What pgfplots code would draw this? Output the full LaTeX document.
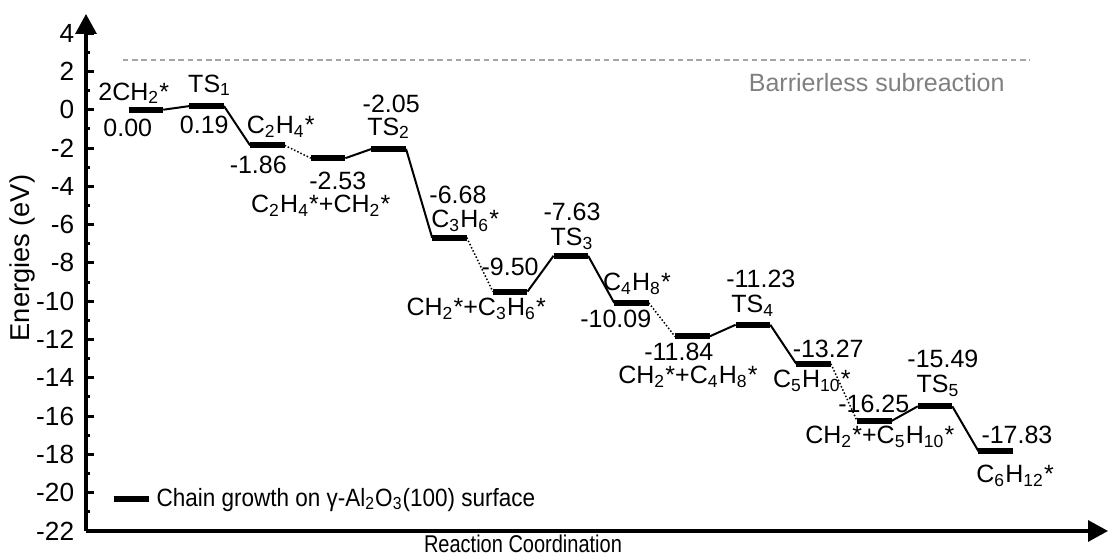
\documentclass[border=0pt]{standalone}
\usepackage{fontspec}
\setmainfont{Liberation Sans}
\usepackage{graphicx}
\usepackage{pgfplots}
\pgfplotsset{compat=1.18}
\usetikzlibrary{arrows.meta}

\definecolor{refgray}{RGB}{165,165,165}
\definecolor{textgray}{RGB}{128,128,128}
\tikzset{lab/.style={anchor=base, inner sep=0pt, font=\normalsize}}

\begin{document}
\begin{tikzpicture}
\begin{axis}[
  name=ax,
  scale only axis,
  width=408.8pt, height=206.8pt,
  xmin=-0.988, xmax=15.85,
  ymin=-22, ymax=5,
  axis lines=left,
  axis line style={line width=1.3pt, -{Triangle[length=8pt,width=8.4pt]}},
  xtick=\empty,
  ytick={-22,-20,...,4},
  minor y tick num=1,
  tick align=inside,
  major tick length=3.4pt,
  minor tick length=1.8pt,
  tick style={black, line width=1.2pt},
  yticklabel style={xshift=-1.2pt, font=\fontsize{10.5}{12}\selectfont},
  /pgf/number format/assume math mode=true,
  ylabel={Energies (eV)},
  ylabel style={at={(axis description cs:-0.0626,0.528)}, anchor=center, rotate=0,
    font=\fontsize{10.9}{13}\selectfont},
  xlabel={\scalebox{0.8}[0.97]{Reaction Coordination}},
  xlabel style={at={(axis description cs:0.4276,-0.0251)}, anchor=center},
  clip=false,
  unbounded coords=jump,
  legend style={at={(axis description cs:0.0235,0.062)}, anchor=west,
    draw=none, fill=none, inner sep=0pt},
  legend image code/.code={\draw[line width=2.4pt] (0pt,0pt) -- (14pt,0pt);},
]

% energy levels of the intermediates and transition states
\addplot[black, line width=2.4pt] coordinates {
  (-0.285,0.00)   (0.285,0.00)   (0.5,nan)
  (0.715,0.19)    (1.285,0.19)   (1.5,nan)
  (1.715,-1.86)   (2.285,-1.86)  (2.5,nan)
  (2.715,-2.53)   (3.285,-2.53)  (3.5,nan)
  (3.715,-2.05)   (4.285,-2.05)  (4.5,nan)
  (4.715,-6.68)   (5.285,-6.68)  (5.5,nan)
  (5.715,-9.50)   (6.285,-9.50)  (6.5,nan)
  (6.715,-7.63)   (7.285,-7.63)  (7.5,nan)
  (7.715,-10.09)  (8.285,-10.09) (8.5,nan)
  (8.715,-11.84)  (9.285,-11.84) (9.5,nan)
  (9.715,-11.23)  (10.285,-11.23) (10.5,nan)
  (10.715,-13.27) (11.285,-13.27) (11.5,nan)
  (11.715,-16.25) (12.285,-16.25) (12.5,nan)
  (12.715,-15.49) (13.285,-15.49) (13.5,nan)
  (13.715,-17.83) (14.285,-17.83)
};
\addlegendentry{\scalebox{0.9}[1]{Chain growth on γ-Al\textsubscript{2}O\textsubscript{3}(100) surface}}

% elementary steps with a barrier
\addplot[black, line width=0.8pt, forget plot] coordinates {
  (0.285,0.00)    (0.715,0.19)    (1,nan)
  (1.285,0.19)    (1.715,-1.86)   (2,nan)
  (3.285,-2.53)   (3.715,-2.05)   (4,nan)
  (4.285,-2.05)   (4.715,-6.68)   (5,nan)
  (6.285,-9.50)   (6.715,-7.63)   (7,nan)
  (7.285,-7.63)   (7.715,-10.09)  (8,nan)
  (9.285,-11.84)  (9.715,-11.23)  (10,nan)
  (10.285,-11.23) (10.715,-13.27) (11,nan)
  (12.285,-16.25) (12.715,-15.49) (13,nan)
  (13.285,-15.49) (13.715,-17.83)
};

% CH2 adsorption steps (barrierless)
\addplot[black, line width=0.6pt, dash pattern=on 0.6pt off 0.8pt, forget plot] coordinates {
  (2.285,-1.86)   (2.715,-2.53)   (2.5,nan)
  (5.285,-6.68)   (5.715,-9.50)   (5.5,nan)
  (8.285,-10.09)  (8.715,-11.84)  (8.5,nan)
  (11.285,-13.27) (11.715,-16.25)
};

% reference line for the barrierless subreactions
\addplot[refgray, line width=0.5pt, dash pattern=on 2.2pt off 1.5pt, forget plot]
  coordinates {(-0.38,2.6) (14.56,2.6)};
\node[lab, text=textgray] at (axis cs:12.04,0.97) {Barrierless subreaction};

% state names and energies
\node[lab] at (axis cs:-0.20,0.50) {2CH\textsubscript{2}*};
\node[lab] at (axis cs:-0.30,-1.39) {0.00};
\node[lab] at (axis cs:1.05,0.92) {TS\textsubscript{1}};
\node[lab] at (axis cs:0.96,-1.23) {0.19};
\node[lab] at (axis cs:2.22,-1.23) {C\textsubscript{2}H\textsubscript{4}*};
\node[lab] at (axis cs:1.85,-3.32) {-1.86};
\node[lab] at (axis cs:3.16,-4.16) {-2.53};
\node[lab] at (axis cs:2.88,-5.36) {C\textsubscript{2}H\textsubscript{4}*+CH\textsubscript{2}*};
\node[lab] at (axis cs:4.04,-0.13) {-2.05};
\node[lab] at (axis cs:4.00,-1.33) {TS\textsubscript{2}};
\node[lab] at (axis cs:5.14,-4.89) {-6.68};
\node[lab] at (axis cs:5.26,-6.15) {C\textsubscript{3}H\textsubscript{6}*};
\node[lab] at (axis cs:6.00,-8.66) {-9.50};
\node[lab] at (axis cs:5.44,-10.75) {CH\textsubscript{2}*+C\textsubscript{3}H\textsubscript{6}*};
\node[lab] at (axis cs:7.02,-5.78) {-7.63};
\node[lab] at (axis cs:7.02,-7.09) {TS\textsubscript{3}};
\node[lab] at (axis cs:8.09,-9.44) {C\textsubscript{4}H\textsubscript{8}*};
\node[lab] at (axis cs:7.74,-11.38) {-10.09};
\node[lab] at (axis cs:8.78,-13.10) {-11.84};
\node[lab] at (axis cs:8.93,-14.31) {CH\textsubscript{2}*+C\textsubscript{4}H\textsubscript{8}*};
\node[lab] at (axis cs:10.13,-9.29) {-11.23};
\node[lab] at (axis cs:10.00,-10.59) {TS\textsubscript{4}};
\node[lab] at (axis cs:11.24,-12.95) {-13.27};
\node[lab] at (axis cs:10.97,-14.52) {C\textsubscript{5}H\textsubscript{10}*};
\node[lab] at (axis cs:11.99,-15.83) {-16.25};
\node[lab] at (axis cs:12.09,-17.45) {CH\textsubscript{2}*+C\textsubscript{5}H\textsubscript{10}*};
\node[lab] at (axis cs:13.13,-13.47) {-15.49};
\node[lab] at (axis cs:13.05,-14.78) {TS\textsubscript{5}};
\node[lab] at (axis cs:14.35,-17.45) {-17.83};
\node[lab] at (axis cs:14.32,-19.49) {C\textsubscript{6}H\textsubscript{12}*};
\end{axis}
\pgfresetboundingbox
\path[use as bounding box] ([shift={(-34.4pt,-10.8pt)}]ax.south west)
  rectangle ([shift={(0.8pt,5.6pt)}]ax.north east);
\end{tikzpicture}
\end{document}
